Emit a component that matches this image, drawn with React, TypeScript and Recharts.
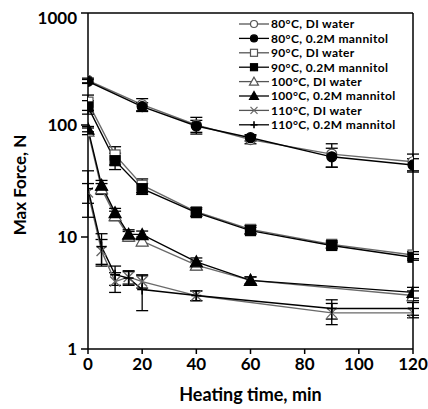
import React from "react";
import {
    LineChart,
    Line,
    XAxis,
    YAxis,
    ErrorBar,
    ReferenceLine,
    Legend
} from "recharts";

// heating times (min) for each temperature
const t80 = [0, 20, 40, 60, 90, 120];
const t90 = [0, 10, 20, 40, 60, 90, 120];
const t100 = [0, 5, 10, 15, 20, 40, 60, 120];
const t110 = [0, 5, 10, 15, 20, 40, 90, 120];

// max force, N
const di80 = [250, 152, 100, 74, 55, 47];
const man80 = [245, 146, 98, 77, 52, 44];
const di90 = [160, 54, 29, 16.8, 11.7, 8.6, 6.9];
const man90 = [145, 48, 27, 16.5, 11.4, 8.4, 6.6];
const di100 = [88, 27, 15.5, 10.2, 9.2, 5.6, 4.1, 3.0];
const man100 = [92, 29, 16.5, 10.6, 10.5, 6.0, 4.1, 3.2];
const di110 = [25, 7.5, 4.0, 4.4, 4.0, 3.0, 2.1, 2.1];
const man110 = [27, 8.2, 4.6, 4.3, 3.4, 3.0, 2.3, 2.3];

// error bars (+/-)
const di80Err = [12, 20, 17, 6, 13, 8];
const man80Err = [10, 12, 12, 5, 10, 6];
const di90Err = [25, 10, 4, 1.5, 1, 0.6, 0.5];
const man90Err = [20, 8, 3, 1.2, 0.8, 0.5, 0.4];
const di100Err = [6, 3, 1.5, 1, 0.8, 0.5, 0.3, 0.3];
const man100Err = [5, 3, 1.5, 1, 0.8, 0.5, 0.3, 0.35];
const di110Err = [5, 2, 0.8, 0.6, 0.5, 0.3, 0.45, 0.2];
const man110Err = [12, 2.5, 0.9, 0.6, 1.2, 0.3, 0.45, 0.3];

const xTicks = [0, 20, 40, 60, 80, 100, 120];
const yTicks = [1, 10, 100, 1000];

const build = (t: number[], v: number[], e: number[]) =>
    t.map((x, i) => ({ t: x, v: v[i], e: e[i] }));

type Shape = "circle" | "square" | "triangle" | "x" | "plus";

const series = [
    { name: "80°C, DI water", data: build(t80, di80, di80Err), shape: "circle" as Shape, filled: false },
    { name: "80°C, 0.2M mannitol", data: build(t80, man80, man80Err), shape: "circle" as Shape, filled: true },
    { name: "90°C, DI water", data: build(t90, di90, di90Err), shape: "square" as Shape, filled: false },
    { name: "90°C, 0.2M mannitol", data: build(t90, man90, man90Err), shape: "square" as Shape, filled: true },
    { name: "100°C, DI water", data: build(t100, di100, di100Err), shape: "triangle" as Shape, filled: false },
    { name: "100°C, 0.2M mannitol", data: build(t100, man100, man100Err), shape: "triangle" as Shape, filled: true },
    { name: "110°C, DI water", data: build(t110, di110, di110Err), shape: "x" as Shape, filled: false },
    { name: "110°C, 0.2M mannitol", data: build(t110, man110, man110Err), shape: "plus" as Shape, filled: true },
];

const FONT = "Lato, 'Open Sans', sans-serif";

const marker = (shape: Shape, filled: boolean, cx: number, cy: number, s: number, key?: string) => {
    const stroke = filled ? "#000" : "#555";
    const fill = filled ? "#000" : "#fff";
    const h = s / 2;
    switch (shape) {
        case "circle":
            return <circle key={key} cx={cx} cy={cy} r={h} fill={fill} stroke={stroke} strokeWidth={1.2} />;
        case "square":
            return <rect key={key} x={cx - h} y={cy - h} width={s} height={s} fill={fill} stroke={stroke} strokeWidth={1.2} />;
        case "triangle":
            return (
                <polygon
                    key={key}
                    points={`${cx},${cy - h - 1} ${cx - h - 1},${cy + h} ${cx + h + 1},${cy + h}`}
                    fill={fill}
                    stroke={stroke}
                    strokeWidth={1.2}
                />
            );
        case "x":
            return (
                <g key={key} stroke="#666" strokeWidth={1.3}>
                    <line x1={cx - h} y1={cy - h} x2={cx + h} y2={cy + h} />
                    <line x1={cx - h} y1={cy + h} x2={cx + h} y2={cy - h} />
                </g>
            );
        default:
            return (
                <g key={key} stroke="#000" strokeWidth={1.6}>
                    <line x1={cx - h} y1={cy} x2={cx + h} y2={cy} />
                    <line x1={cx} y1={cy - h} x2={cx} y2={cy + h} />
                </g>
            );
    }
};

const LegendBox = () => (
    <svg width={180} height={120}>
        {series.map((s, i) => {
            const y = 7 + i * 14.4;
            return (
                <g key={s.name}>
                    <line x1={0} y1={y} x2={30} y2={y} stroke={s.filled ? "#000" : "#555"} strokeWidth={1.3} />
                    {marker(s.shape, s.filled, 15, y, 7)}
                    <text x={32} y={y + 4.3} fontSize={12} letterSpacing={0.35} fontWeight={700} fontFamily={FONT} fill="#000">
                        {s.name}
                    </text>
                </g>
            );
        })}
    </svg>
);

const YLabel = (props: any) => {
    const { viewBox } = props;
    const x = viewBox.x - 4;
    const y = viewBox.y + viewBox.height / 2 + 4;
    return (
        <text x={x} y={y} transform={`rotate(-90 ${x} ${y})`} textAnchor="middle" fontSize={17} fontWeight={700} fontFamily={FONT} fill="#000">
            Max Force, N
        </text>
    );
};

const XLabel = (props: any) => {
    const { viewBox } = props;
    const x = viewBox.x + viewBox.width / 2;
    return (
        <text x={x} y={393} textAnchor="middle" fontSize={18} fontWeight={700} fontFamily={FONT} fill="#000">
            Heating time, min
        </text>
    );
};

const App: React.FC = () => {
    return (
        <div style={{ position: "absolute", left: 8, top: 8 }}>
            <LineChart width={420} height={400} margin={{ top: 5, right: 15, left: 22, bottom: 9 }}>
                <XAxis
                    type="number"
                    dataKey="t"
                    domain={[0, 120]}
                    ticks={xTicks}
                    allowDataOverflow
                    stroke="#000"
                    strokeWidth={1.5}
                    tickSize={5}
                    tickMargin={4}
                    height={50}
                    tick={{ fontSize: 17, fontWeight: 700, fill: "#000", fontFamily: FONT }}
                    label={<XLabel />}
                />
                <YAxis
                    type="number"
                    scale="log"
                    domain={[1, 1000]}
                    ticks={yTicks}
                    allowDataOverflow
                    stroke="#000"
                    strokeWidth={1.5}
                    tickSize={7}
                    tickMargin={4}
                    width={58}
                    tick={{ fontSize: 17, fontWeight: 700, fill: "#000", fontFamily: FONT }}
                    label={<YLabel />}
                />
                <ReferenceLine y={1000} stroke="#000" strokeWidth={1.5} />
                <ReferenceLine x={120} stroke="#000" strokeWidth={1.5} />
                {series.map((s) => (
                    <Line
                        key={s.name}
                        name={s.name}
                        data={s.data}
                        dataKey="v"
                        stroke={s.filled ? "#000" : "#6a6a6a"}
                        strokeWidth={1.4}
                        isAnimationActive={false}
                        dot={(p: any) => marker(s.shape, s.filled, p.cx, p.cy, 10, `${s.name}-${p.index}`)}
                        activeDot={false}
                    >
                        <ErrorBar dataKey="e" direction="y" width={6} stroke="#000" strokeWidth={1.3} />
                    </Line>
                ))}
                <Legend
                    layout="horizontal"
                    align="center"
                    verticalAlign="middle"
                    content={() => <LegendBox />}
                    wrapperStyle={{ top: 9, left: 231, width: 185, height: 120 }}
                />
            </LineChart>
        </div>
    );
};

export default App;
